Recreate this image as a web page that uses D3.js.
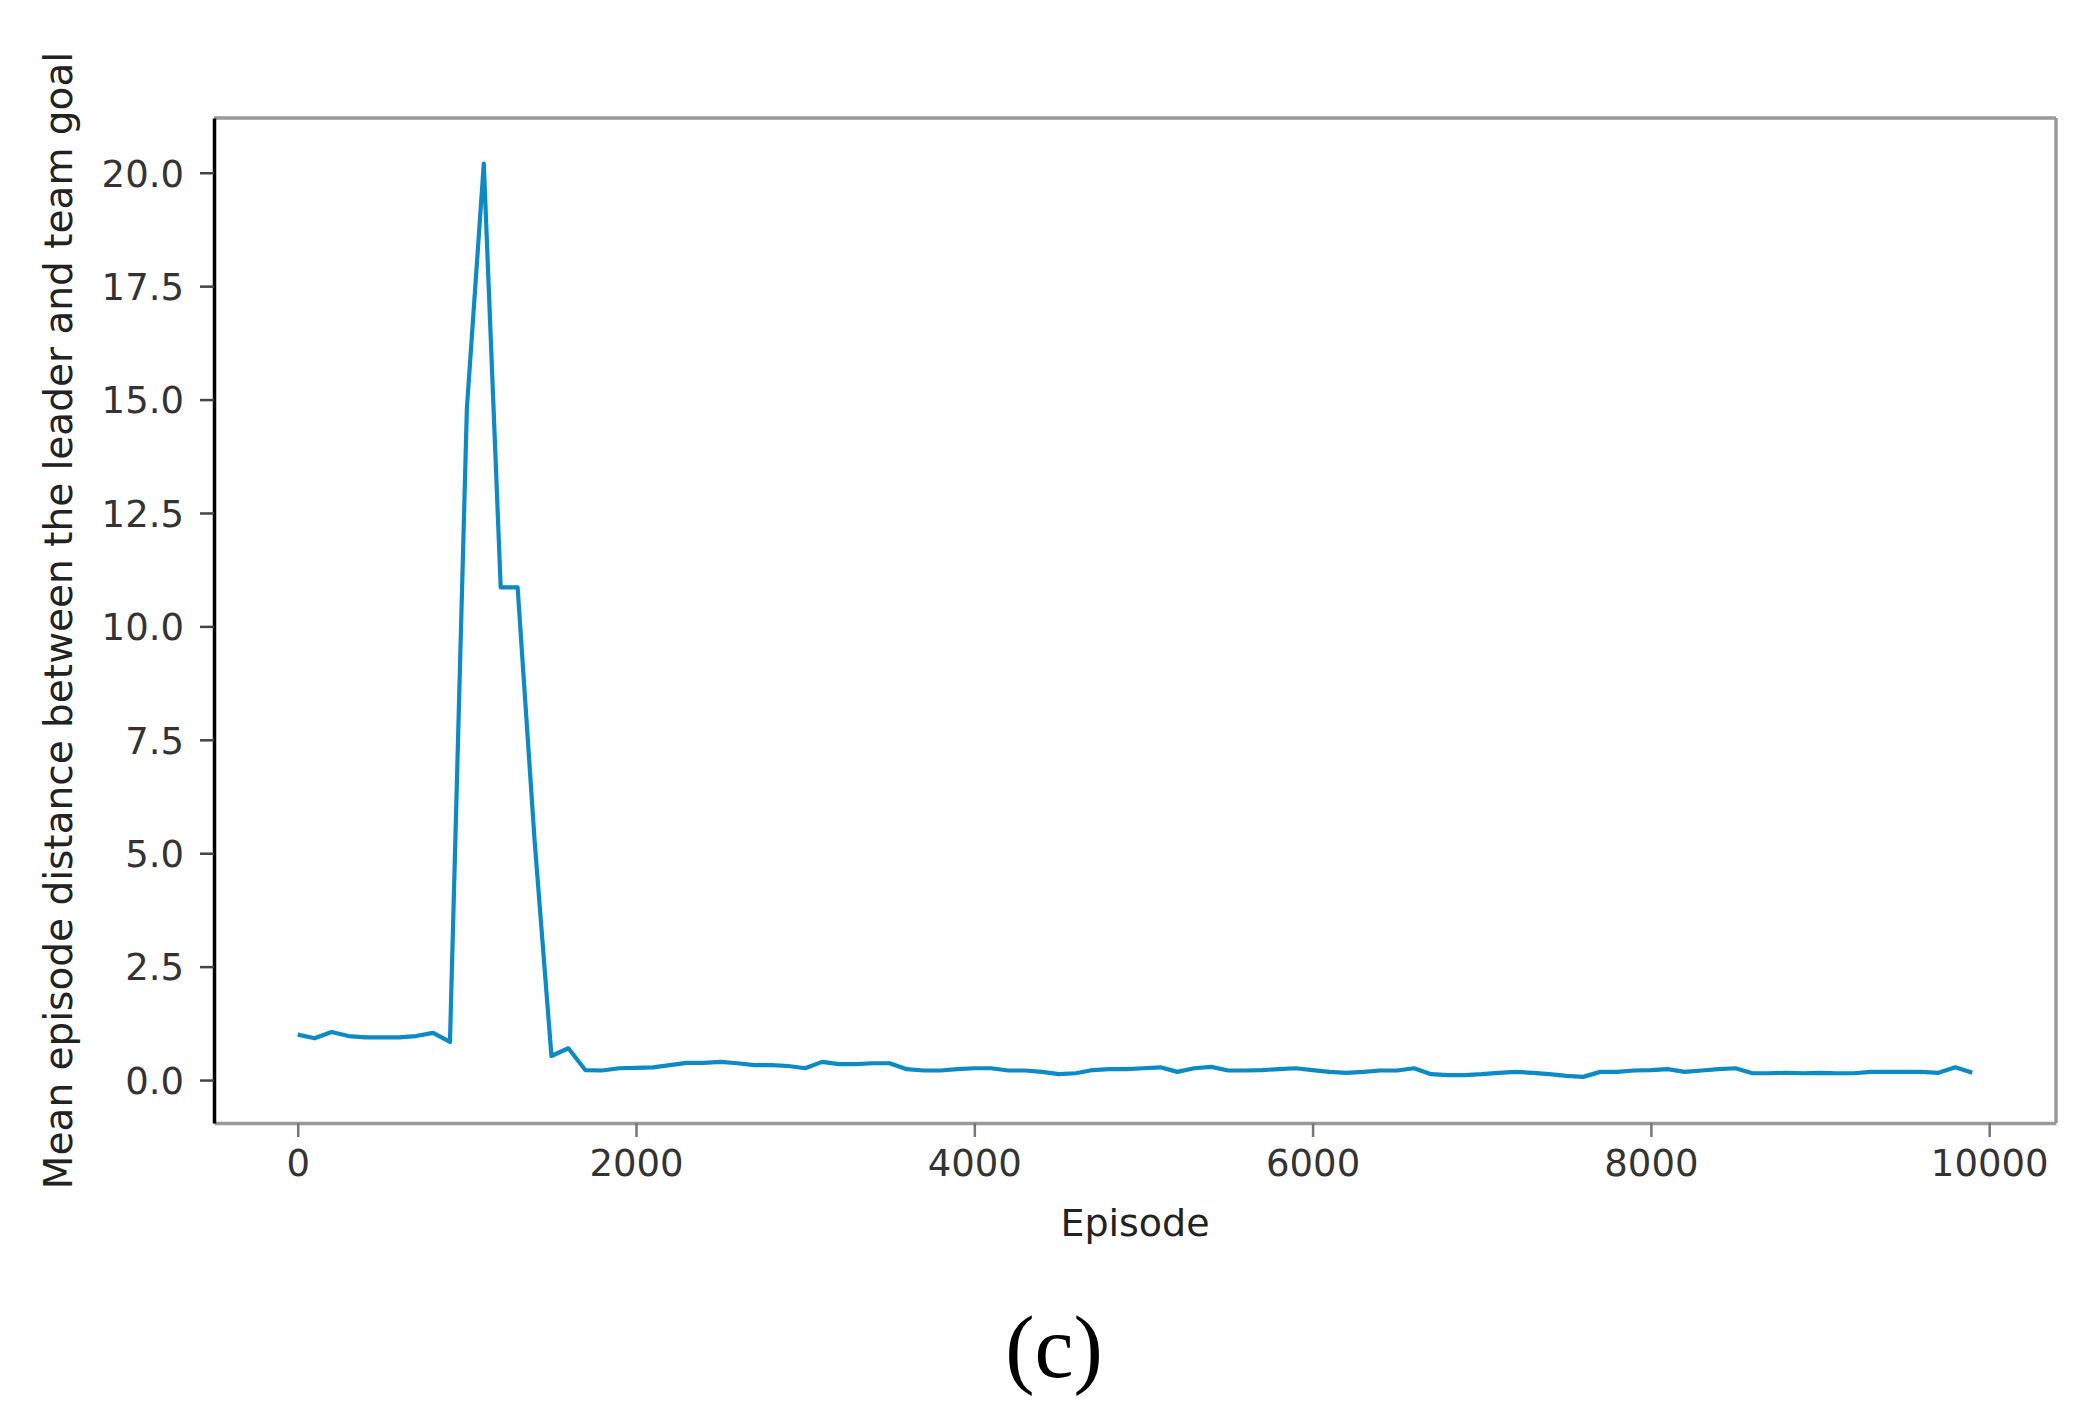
<!DOCTYPE html>
<html>
<head>
<meta charset="utf-8">
<script src="https://cdn.jsdelivr.net/npm/d3@7"></script>
<style>
  body { margin: 0; background: #fff; }
  .tick text { font-family: "DejaVu Sans", sans-serif; fill: #333; }
</style>
</head>
<body>
<div id="chart"></div>
<script>
// episodes sampled every 100
var episodes = d3.range(0, 10000, 100);

// mean distance
var distance = [
  1.00, 0.92, 1.06, 0.97, 0.94, 0.94, 0.94, 0.97, 1.04, 0.84,
  14.8, 20.2, 10.86, 10.86, 5.3, 0.53, 0.70, 0.22, 0.21, 0.26,
  0.27, 0.28, 0.33, 0.38, 0.38, 0.40, 0.37, 0.33, 0.33, 0.31,
  0.26, 0.40, 0.35, 0.35, 0.37, 0.37, 0.24, 0.21, 0.21, 0.24,
  0.26, 0.26, 0.21, 0.21, 0.18, 0.13, 0.15, 0.22, 0.24, 0.24,
  0.26, 0.28, 0.18, 0.26, 0.29, 0.21, 0.21, 0.22, 0.24, 0.26,
  0.22, 0.18, 0.16, 0.18, 0.21, 0.21, 0.26, 0.13, 0.11, 0.11,
  0.13, 0.16, 0.18, 0.16, 0.13, 0.09, 0.07, 0.18, 0.18, 0.21,
  0.22, 0.24, 0.18, 0.21, 0.24, 0.26, 0.15, 0.15, 0.16, 0.15,
  0.16, 0.15, 0.15, 0.18, 0.18, 0.18, 0.18, 0.16, 0.28, 0.16
];

var xTicks = [0, 2000, 4000, 6000, 8000, 10000];
var yTicks = [0, 2.5, 5, 7.5, 10, 12.5, 15, 17.5, 20];

var W = 2090, H = 1427;
var plot = {left: 214, right: 2056, top: 118, bottom: 1123};

var svg = d3.select("#chart")
    .append("svg")
    .attr("width", W)
    .attr("height", H);

var x = d3.scaleLinear().domain([-495, 10395]).range([plot.left, plot.right]);
var y = d3.scaleLinear().domain([-0.947, 21.207]).range([plot.bottom, plot.top]);

// frame: top/right/bottom gray, left black
svg.append("line")
    .attr("x1", plot.left).attr("x2", plot.right)
    .attr("y1", plot.top).attr("y2", plot.top)
    .attr("stroke", "#999").attr("stroke-width", 3.5);
svg.append("line")
    .attr("x1", plot.right).attr("x2", plot.right)
    .attr("y1", plot.top).attr("y2", plot.bottom)
    .attr("stroke", "#999").attr("stroke-width", 3.5);

// x axis
var gx = svg.append("g")
    .attr("transform", "translate(0," + plot.bottom + ")")
    .call(d3.axisBottom(x).tickValues(xTicks).tickSize(14).tickSizeOuter(0).tickPadding(13).tickFormat(d3.format("d")));
gx.select(".domain").attr("stroke", "#999").attr("stroke-width", 3.5);
gx.selectAll(".tick line").attr("stroke", "#777").attr("stroke-width", 2.5);
gx.selectAll(".tick text").attr("font-size", "37px");

// y axis
var gy = svg.append("g")
    .attr("transform", "translate(" + plot.left + ",0)")
    .call(d3.axisLeft(y).tickValues(yTicks).tickSize(14).tickSizeOuter(0).tickPadding(16).tickFormat(d3.format(".1f")));
gy.select(".domain").attr("stroke", "#000").attr("stroke-width", 3.5);
gy.selectAll(".tick line").attr("stroke", "#444").attr("stroke-width", 2.5);
gy.selectAll(".tick text").attr("font-size", "37px").attr("dy", "0.36em");

// series line
var line = d3.line()
    .x(function(d, i) { return x(episodes[i]); })
    .y(function(d) { return y(d); });

svg.append("path")
    .datum(distance)
    .attr("fill", "none")
    .attr("stroke", "#0b8ac6")
    .attr("stroke-width", 4.2)
    .attr("stroke-linejoin", "round")
    .attr("d", line);

// axis labels
svg.append("text")
    .attr("x", (plot.left + plot.right) / 2)
    .attr("y", 1236)
    .attr("text-anchor", "middle")
    .attr("font-family", "DejaVu Sans, sans-serif")
    .attr("font-size", "38px")
    .attr("fill", "#222")
    .text("Episode");

svg.append("text")
    .attr("transform", "translate(72," + (plot.top + plot.bottom) / 2 + ") rotate(-90)")
    .attr("text-anchor", "middle")
    .attr("font-family", "DejaVu Sans, sans-serif")
    .attr("font-size", "39px")
    .attr("fill", "#222")
    .text("Mean episode distance between the leader and team goal");

// panel caption
svg.append("text")
    .attr("x", 1054)
    .attr("y", 1377)
    .attr("text-anchor", "middle")
    .attr("font-family", "Liberation Serif, Times New Roman, serif")
    .attr("font-size", "88px")
    .attr("fill", "#000")
    .text("(c)");
</script>
</body>
</html>
